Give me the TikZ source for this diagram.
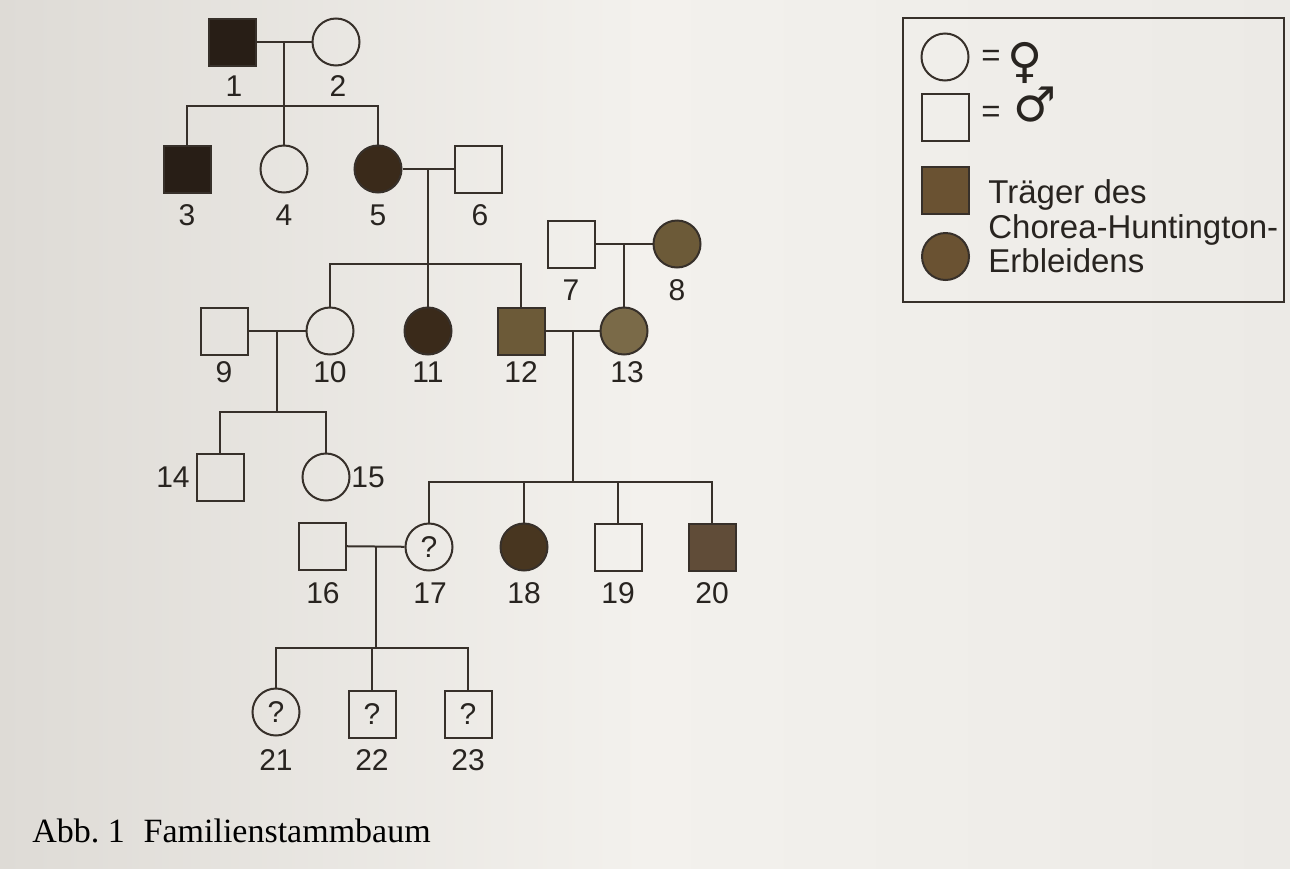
\documentclass[tikz,border=0pt]{standalone}
\usepackage{fontspec}
\setmainfont{Liberation Sans}
\newfontfamily\capfont{Liberation Serif}
\newfontfamily\symfont{DejaVu Sans}
\usetikzlibrary{calc}
\definecolor{linec}{RGB}{55,48,42}
\definecolor{labc}{RGB}{40,36,32}
\definecolor{cblack}{RGB}{40,30,22}
\definecolor{cdark}{RGB}{58,42,26}
\definecolor{colive}{RGB}{108,90,56}
\definecolor{clight}{RGB}{122,106,72}
\definecolor{cbrown}{RGB}{72,54,32}
\definecolor{cred}{RGB}{96,76,56}
\definecolor{cleg}{RGB}{106,82,50}
\definecolor{bgl}{RGB}{222,219,214}
\definecolor{bgm}{RGB}{243,241,237}
\definecolor{bgr}{RGB}{236,234,230}
\begin{document}
\begin{tikzpicture}[x=0.5pt,y=-0.5pt,
  male/.style={rectangle, draw=linec, line width=1pt, minimum size=23.5pt, inner sep=0pt, font=\fontsize{15}{18}\selectfont, text=labc},
  female/.style={circle, draw=linec, line width=1pt, minimum size=23.5pt, inner sep=0pt, font=\fontsize{15}{18}\selectfont, text=labc},
  lab/.style={inner sep=0pt, font=\fontsize{15}{18}\selectfont, text=labc},
  conn/.style={draw=linec, line width=1pt},
  legtext/.style={inner sep=0pt, anchor=base west, font=\fontsize{16.5}{19}\selectfont, text=labc}]
\useasboundingbox (0,0) rectangle (1290,868);
\shade[left color=bgl, right color=bgr, middle color=bgm] (0,0) rectangle (1290,868);

% generation I
\node[male, fill=cblack] (n1) at (232,42) {};
\node[female] (n2) at (336,42) {};
% generation II
\node[male, fill=cblack] (n3) at (187,169) {};
\node[female] (n4) at (284,169) {};
\node[female, fill=cdark] (n5) at (378,169) {};
\node[male] (n6) at (478,169) {};
\node[male] (n7) at (571,244) {};
\node[female, fill=colive] (n8) at (677,244) {};
% generation III
\node[male] (n9) at (224,331) {};
\node[female] (n10) at (330,331) {};
\node[female, fill=cdark] (n11) at (428,331) {};
\node[male, fill=colive] (n12) at (521,331) {};
\node[female, fill=clight] (n13) at (624,331) {};
% generation IV
\node[male] (n14) at (220,477) {};
\node[female] (n15) at (326,477) {};
\node[male] (n16) at (322,546) {};
\node[female] (n17) at (429,547) {?};
\node[female, fill=cbrown] (n18) at (524,547) {};
\node[male] (n19) at (618,547) {};
\node[male, fill=cred] (n20) at (712,547) {};
% generation V
\node[female] (n21) at (276,712) {?};
\node[male] (n22) at (372,714) {?};
\node[male] (n23) at (468,714) {?};

% labels
\node[lab] (l1) at (234,86) {1};
\node[lab] (l2) at (338,86) {2};
\node[lab] (l3) at (187,215) {3};
\node[lab] (l4) at (284,215) {4};
\node[lab] (l5) at (378,215) {5};
\node[lab] (l6) at (480,215) {6};
\node[lab] (l7) at (571,290) {7};
\node[lab] (l8) at (677,290) {8};
\node[lab] (l9) at (224,372) {9};
\node[lab] (l10) at (330,372) {10};
\node[lab] (l11) at (428,372) {11};
\node[lab] (l12) at (521,372) {12};
\node[lab] (l13) at (627,372) {13};
\node[lab] (l14) at (173,477) {14};
\node[lab] (l15) at (368,477) {15};
\node[lab] (l16) at (323,593) {16};
\node[lab] (l17) at (430,593) {17};
\node[lab] (l18) at (524,593) {18};
\node[lab] (l19) at (618,593) {19};
\node[lab] (l20) at (712,593) {20};
\node[lab] (l21) at (276,760) {21};
\node[lab] (l22) at (372,760) {22};
\node[lab] (l23) at (468,760) {23};

% marriages and descent
\coordinate (m12) at ($(n1)!0.5!(n2)$);
\coordinate (s1) at (284,106);
\draw[conn] (n1) -- (n2);
\draw[conn] (m12) -- (n4);
\draw[conn] (n3) |- (s1) -| (n5);

\coordinate (m56) at ($(n5)!0.5!(n6)$);
\coordinate (s2) at (428,264);
\draw[conn] (n5) -- (n6);
\draw[conn] (m56) -- (n11);
\draw[conn] (n10) |- (s2) -| (n12);

\coordinate (m78) at ($(n7)!0.5!(n8)$);
\draw[conn] (n7) -- (n8);
\draw[conn] (m78) -- (n13);

\coordinate (m910) at ($(n9)!0.5!(n10)$);
\coordinate (s3) at (277,412);
\draw[conn] (n9) -- (n10);
\draw[conn] (m910) -- (s3);
\draw[conn] (n14) |- (s3) -| (n15);

\coordinate (m1213) at ($(n12)!0.5!(n13)$);
\coordinate (s4) at (572.5,482);
\draw[conn] (n12) -- (n13);
\draw[conn] (m1213) -- (s4);
\draw[conn] (n17) |- (s4) -| (n20);
\draw[conn] (n18) -- (n18 |- s4);
\draw[conn] (n19) -- (n19 |- s4);

\coordinate (m1617) at ($(n16)!0.5!(n17)$);
\coordinate (s5) at (375.5,648);
\draw[conn] (n16) -- (n17);
\draw[conn] (m1617) -- (s5);
\draw[conn] (n21) |- (s5) -| (n23);
\draw[conn] (n22) -- (n22 |- s5);

% legend
\node[rectangle, draw=linec, line width=1pt, minimum width=190.5pt, minimum height=142pt, inner sep=0pt] (legbox) at (1093.5,160) {};
\node[female] (lf) at (945,57) {};
\node[male] (lm) at (945.5,117.5) {};
\node[male, fill=cleg] (lsq) at (945.5,190.5) {};
\node[female, fill=cleg] (lci) at (945.5,256.5) {};
\node[legtext, anchor=center] (eq1) at (991,58) {=};
\node[legtext, anchor=center] (eq2) at (991,114) {=};
\node[inner sep=0pt, font=\symfont\fontsize{24}{26}\selectfont, text=labc] (sf) at (1025,63) {♀};
\node[inner sep=0pt, font=\symfont\fontsize{24}{26}\selectfont, text=labc] (sm) at (1035,105) {♂};
\node[legtext] (t1) at (988,203) {Träger des};
\node[legtext] (t2) at (988,238) {Chorea-Huntington-};
\node[legtext] (t3) at (988,272) {Erbleidens};

% caption
\node[inner sep=0pt, anchor=base west, font=\capfont\fontsize{17}{20}\selectfont, text=black] (cap) at (32,842) {Abb.~1\hspace{0.55em}Familienstammbaum};
\end{tikzpicture}
\end{document}
